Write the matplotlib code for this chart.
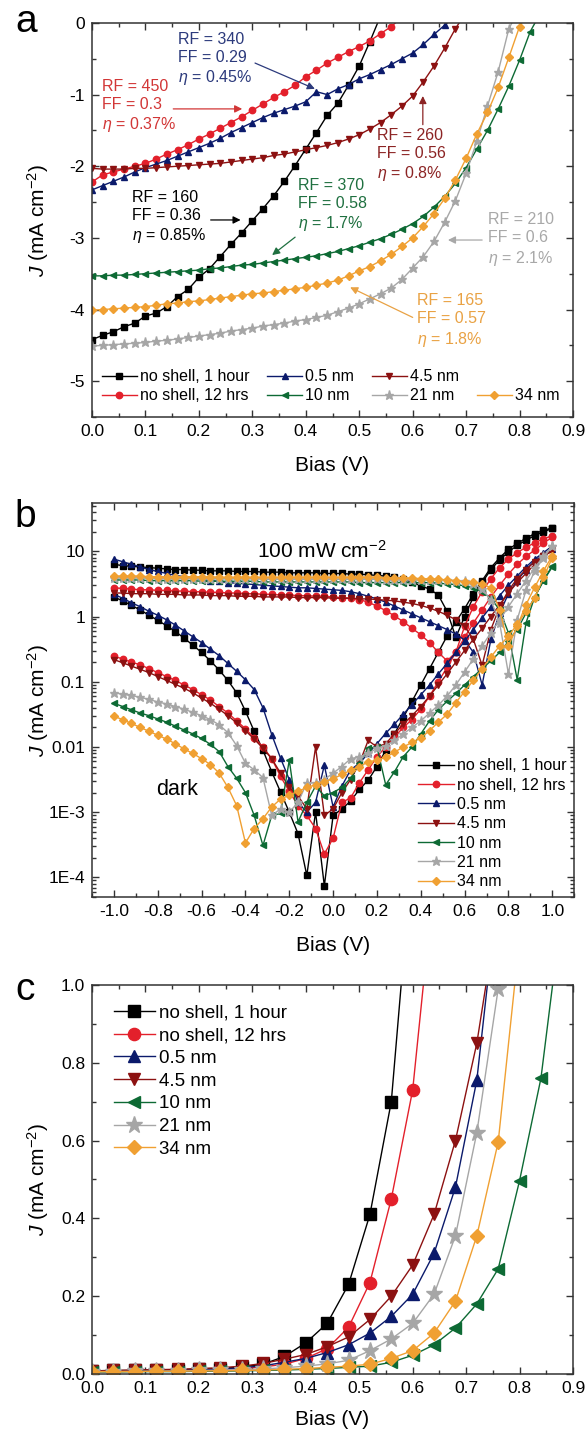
import numpy as np
import matplotlib
matplotlib.use("Agg")
import matplotlib.pyplot as plt
from matplotlib.lines import Line2D
from matplotlib.ticker import MultipleLocator, FixedLocator, FuncFormatter, LogLocator, NullFormatter

plt.rcParams["font.family"] = ["Liberation Sans", "DejaVu Sans"]
plt.rcParams["mathtext.fontset"] = "custom"
plt.rcParams["mathtext.rm"] = "Liberation Sans"
plt.rcParams["mathtext.it"] = "Liberation Sans:italic"
plt.rcParams["axes.unicode_minus"] = False

# series names, colours, markers
names = ["no shell, 1 hour", "no shell, 12 hrs", "0.5 nm", "4.5 nm", "10 nm", "21 nm", "34 nm"]
colors = ["#000000", "#e3202b", "#0b1a6b", "#8c1111", "#0d6a34", "#a6a6a6", "#f0a032"]
markers = ["s", "o", "^", "v", "<", "*", "D"]
text_colors = ["#000000", "#d23636", "#2c3a7c", "#8c2424", "#1f7040", "#a8a8a8", "#e9a244"]

# ---- panel a: J-V under illumination, bias step 0.02 V from 0 ----
a_black = [-4.42, -4.36, -4.31, -4.24, -4.19, -4.09, -4.05, -3.96, -3.82, -3.72,
           -3.55, -3.43, -3.26, -3.09, -2.93, -2.76, -2.59, -2.41, -2.21, -1.99,
           -1.76, -1.53, -1.29, -1.12, -0.87, -0.60, -0.26, 0.10]
a_red = [-2.22, -2.12, -2.08, -2.04, -2.00, -1.96, -1.90, -1.83, -1.77, -1.70,
         -1.62, -1.55, -1.47, -1.39, -1.31, -1.22, -1.13, -1.04, -0.96, -0.87,
         -0.75, -0.66, -0.56, -0.48, -0.40, -0.33, -0.25, -0.15, -0.05, 0.08]
a_blue = [-2.33, -2.27, -2.21, -2.15, -2.08, -2.02, -1.97, -1.92, -1.86, -1.80,
          -1.74, -1.68, -1.61, -1.53, -1.46, -1.39, -1.32, -1.26, -1.21, -1.16,
          -1.10, -0.96, -1.00, -0.92, -0.86, -0.78, -0.72, -0.65, -0.58, -0.50,
          -0.42, -0.30, -0.16, -0.03, 0.10]
a_brown = [-2.03, -2.04, -2.04, -2.04, -2.03, -2.03, -2.02, -2.01, -2.00, -1.99,
           -1.98, -1.97, -1.96, -1.94, -1.92, -1.90, -1.88, -1.85, -1.83, -1.80,
           -1.77, -1.74, -1.71, -1.67, -1.62, -1.56, -1.48, -1.39, -1.28, -1.16,
           -1.02, -0.82, -0.60, -0.35, -0.08, 0.15]
a_green = [-3.53, -3.53, -3.52, -3.52, -3.51, -3.50, -3.49, -3.48, -3.47, -3.46,
           -3.45, -3.43, -3.42, -3.40, -3.38, -3.37, -3.35, -3.33, -3.31, -3.29,
           -3.27, -3.25, -3.22, -3.19, -3.15, -3.11, -3.06, -3.01, -2.95, -2.88,
           -2.80, -2.70, -2.57, -2.42, -2.24, -2.02, -1.76, -1.50, -1.20, -0.88,
           -0.52, -0.12, 0.15]
a_gray = [-4.51, -4.50, -4.49, -4.48, -4.47, -4.46, -4.44, -4.43, -4.41, -4.39,
          -4.37, -4.35, -4.33, -4.30, -4.28, -4.26, -4.23, -4.21, -4.19, -4.16,
          -4.14, -4.11, -4.08, -4.03, -3.98, -3.92, -3.85, -3.78, -3.70, -3.58,
          -3.42, -3.26, -3.05, -2.78, -2.48, -2.10, -1.65, -1.16, -0.68, -0.08,
          0.20]
a_orange = [-4.01, -4.00, -3.99, -3.98, -3.97, -3.96, -3.94, -3.92, -3.91, -3.89,
            -3.88, -3.86, -3.84, -3.82, -3.80, -3.78, -3.77, -3.75, -3.73, -3.71,
            -3.69, -3.66, -3.63, -3.59, -3.53, -3.46, -3.40, -3.32, -3.23, -3.12,
            -3.00, -2.84, -2.66, -2.45, -2.19, -1.89, -1.55, -1.25, -0.90, -0.48,
            -0.05, 0.20]

# annotation text, anchor (bias, J) and arrow (from, to)
a_notes = [
    ("RF = 160\nFF = 0.36\n$\\eta$ = 0.85%", 0, (0.075, -2.33), (0.222, -2.75), (0.278, -2.75)),
    ("RF = 450\nFF = 0.3\n$\\eta$ = 0.37%", 1, (0.019, -0.78), (0.152, -1.20), (0.281, -1.20)),
    ("RF = 340\nFF = 0.29\n$\\eta$ = 0.45%", 2, (0.161, -0.12), (0.305, -0.56), (0.417, -0.92)),
    ("RF = 260\nFF = 0.56\n$\\eta$ = 0.8%", 3, (0.533, -1.46), (0.619, -1.42), (0.619, -1.02)),
    ("RF = 370\nFF = 0.58\n$\\eta$ = 1.7%", 4, (0.385, -2.16), (0.38, -2.99), (0.337, -3.24)),
    ("RF = 210\nFF = 0.6\n$\\eta$ = 2.1%", 5, (0.741, -2.64), (0.73, -3.03), (0.666, -3.03)),
    ("RF = 165\nFF = 0.57\n$\\eta$ = 1.8%", 6, (0.608, -3.77), (0.60, -4.11), (0.483, -3.69)),
]

# ---- panel b: log10 |J| from -1.0 to 1.0 V, step 0.04 V ----
b_light_black = [0.80, 0.78, 0.77, 0.76, 0.75, 0.74, 0.73, 0.72, 0.72, 0.71,
                 0.71, 0.70, 0.70, 0.70, 0.69, 0.69, 0.69, 0.68, 0.68, 0.68,
                 0.67, 0.67, 0.67, 0.67, 0.66, 0.66, 0.66, 0.65, 0.65, 0.64,
                 0.63, 0.62, 0.60, 0.57, 0.53, 0.47, 0.42, 0.33, 0.08, -0.32,
                 0.00, 0.30, 0.52, 0.72, 0.87, 0.99, 1.09, 1.17, 1.24, 1.30, 1.35]
b_light_red = [0.44, 0.43, 0.42, 0.41, 0.41, 0.40, 0.40, 0.39, 0.39, 0.38,
               0.38, 0.37, 0.37, 0.36, 0.36, 0.35, 0.35, 0.34, 0.34, 0.33,
               0.33, 0.32, 0.32, 0.31, 0.31, 0.30, 0.29, 0.28, 0.26, 0.22,
               0.16, 0.09, 0.01, -0.08, -0.18, -0.28, -0.40, -0.55, -0.68, -0.55,
               -0.15, 0.15, 0.38, 0.58, 0.75, 0.88, 0.98, 1.06, 1.13, 1.19, 1.24]
b_light_blue = [0.88, 0.84, 0.80, 0.76, 0.72, 0.69, 0.66, 0.63, 0.61, 0.59,
                0.57, 0.55, 0.54, 0.52, 0.51, 0.50, 0.49, 0.48, 0.47, 0.46,
                0.45, 0.44, 0.44, 0.43, 0.42, 0.41, 0.40, 0.38, 0.35, 0.31,
                0.27, 0.22, 0.16, 0.10, 0.04, -0.02, -0.08, -0.14, -0.20, -0.27,
                -0.36, -0.55, -1.05, -0.35, 0.05, 0.35, 0.55, 0.72, 0.85, 0.95, 1.04]
b_light_brown = [0.36, 0.36, 0.35, 0.35, 0.35, 0.34, 0.34, 0.34, 0.33, 0.33,
                 0.33, 0.32, 0.32, 0.32, 0.31, 0.31, 0.31, 0.30, 0.30, 0.30,
                 0.30, 0.29, 0.29, 0.29, 0.29, 0.28, 0.28, 0.28, 0.27, 0.27,
                 0.26, 0.25, 0.24, 0.22, 0.20, 0.17, 0.13, 0.08, 0.02, -0.05,
                 -0.15, -0.35, -0.75, -0.20, 0.15, 0.40, 0.58, 0.72, 0.84, 0.93, 1.00]
b_light_green = [0.56, 0.56, 0.56, 0.56, 0.55, 0.55, 0.55, 0.55, 0.55, 0.55,
                 0.54, 0.54, 0.54, 0.54, 0.54, 0.54, 0.54, 0.53, 0.53, 0.53,
                 0.53, 0.53, 0.53, 0.53, 0.53, 0.53, 0.53, 0.53, 0.52, 0.52,
                 0.52, 0.52, 0.52, 0.52, 0.52, 0.52, 0.52, 0.51, 0.50, 0.49,
                 0.47, 0.44, 0.38, 0.28, 0.10, -0.25, -0.97, -0.10, 0.30, 0.55, 0.76]
b_light_gray = [0.59, 0.59, 0.59, 0.59, 0.59, 0.58, 0.58, 0.58, 0.58, 0.58,
                0.58, 0.58, 0.58, 0.58, 0.58, 0.58, 0.58, 0.57, 0.57, 0.57,
                0.57, 0.57, 0.57, 0.57, 0.57, 0.57, 0.57, 0.57, 0.57, 0.57,
                0.57, 0.56, 0.56, 0.56, 0.56, 0.56, 0.56, 0.56, 0.56, 0.55,
                0.54, 0.50, 0.42, 0.25, -0.10, -0.88, -0.05, 0.40, 0.70, 0.90, 1.08]
b_light_orange = [0.62, 0.62, 0.62, 0.62, 0.61, 0.61, 0.61, 0.61, 0.61, 0.61,
                  0.61, 0.61, 0.60, 0.60, 0.60, 0.60, 0.60, 0.60, 0.60, 0.60,
                  0.60, 0.60, 0.60, 0.60, 0.60, 0.60, 0.60, 0.60, 0.60, 0.60,
                  0.60, 0.59, 0.59, 0.59, 0.59, 0.58, 0.58, 0.57, 0.56, 0.55,
                  0.53, 0.53, 0.50, 0.44, 0.10, -0.45, -0.15, 0.18, 0.45, 0.70, 0.93]

b_dark_black = [0.30, 0.24, 0.17, 0.10, 0.02, -0.06, -0.14, -0.23, -0.33, -0.44,
                -0.55, -0.68, -0.82, -0.98, -1.17, -1.45, -1.76, -2.05, -2.38, -2.69,
                -3.00, -3.33, -3.97, -3.00, -4.13, -3.05, -2.95, -2.83, -2.65, -2.51,
                -2.30, -2.05, -1.80, -1.55, -1.30, -1.05, -0.80, -0.55, -0.30, -0.08,
                0.12, 0.35, 0.55, 0.75, 0.90, 1.03, 1.12, 1.20, 1.27, 1.32, 1.36]
b_dark_red = [-0.61, -0.65, -0.70, -0.74, -0.80, -0.86, -0.92, -0.98, -1.05, -1.12,
              -1.20, -1.28, -1.38, -1.48, -1.60, -1.72, -1.86, -2.00, -2.18, -2.45,
              -2.68, -2.90, -3.05, -3.25, -3.64, -3.40, -2.85, -2.78, -2.55, -2.35,
              -2.15, -2.00, -1.85, -1.70, -1.58, -1.42, -1.22, -1.00, -0.78, -0.55,
              -0.32, -0.10, 0.10, 0.30, 0.48, 0.65, 0.80, 0.92, 1.02, 1.12, 1.22]
b_dark_blue = [0.34, 0.28, 0.21, 0.15, 0.08, 0.02, -0.05, -0.13, -0.22, -0.31,
               -0.40, -0.50, -0.60, -0.72, -0.84, -0.97, -1.12, -1.40, -1.81, -2.17,
               -2.50, -2.85, -3.00, -2.85, -2.28, -2.92, -2.60, -2.35, -2.25, -2.10,
               -1.95, -1.79, -1.65, -1.50, -1.35, -1.20, -1.05, -0.88, -0.72, -0.55,
               -0.38, -0.20, -0.02, 0.15, 0.32, 0.48, 0.62, 0.76, 0.88, 0.98, 1.08]
b_dark_brown = [-0.66, -0.71, -0.76, -0.81, -0.86, -0.92, -0.98, -1.04, -1.10, -1.17,
                -1.25, -1.33, -1.42, -1.52, -1.63, -1.75, -1.88, -2.02, -2.18, -2.40,
                -2.62, -2.75, -2.95, -2.00, -3.05, -2.95, -2.70, -2.50, -2.25, -1.90,
                -2.00, -1.95, -1.80, -1.65, -1.52, -1.38, -1.22, -1.05, -0.88, -0.70,
                -0.52, -0.35, -0.18, 0.00, 0.18, 0.36, 0.52, 0.66, 0.80, 0.92, 1.02]
b_dark_green = [-1.33, -1.38, -1.43, -1.48, -1.52, -1.57, -1.62, -1.68, -1.74, -1.80,
                -1.87, -1.96, -2.07, -2.30, -2.48, -2.70, -3.05, -3.51, -3.05, -3.02,
                -2.20, -3.15, -2.85, -2.60, -2.75, -2.70, -2.62, -2.48, -2.25, -2.02,
                -2.00, -2.58, -2.38, -2.15, -2.00, -1.80, -1.60, -1.43, -1.30, -1.18,
                -1.05, -0.92, -0.80, -0.68, -0.55, -0.38, -0.20, 0.05, 0.30, 0.55, 0.78]
b_dark_gray = [-1.17, -1.19, -1.21, -1.24, -1.27, -1.31, -1.34, -1.38, -1.42, -1.47,
               -1.52, -1.58, -1.66, -1.78, -1.98, -2.25, -2.35, -2.47, -3.05, -2.95,
               -3.00, -2.85, -2.55, -2.55, -2.50, -2.40, -2.30, -2.18, -2.15, -2.10,
               -2.02, -1.98, -1.90, -1.80, -1.70, -1.60, -1.48, -1.36, -1.22, -1.05,
               -0.85, -0.65, -0.45, -0.25, -0.05, 0.15, 0.35, 0.55, 0.75, 0.92, 1.08]
b_dark_orange = [-1.53, -1.58, -1.64, -1.70, -1.76, -1.82, -1.88, -1.95, -2.03, -2.10,
                 -2.18, -2.27, -2.40, -2.62, -2.90, -3.47, -3.25, -3.10, -2.92, -2.80,
                 -2.74, -2.68, -2.62, -2.58, -2.53, -2.49, -2.42, -2.36, -2.30, -2.23,
                 -2.20, -2.16, -2.08, -2.00, -1.93, -1.86, -1.75, -1.62, -1.50, -1.32,
                 -1.15, -0.98, -0.80, -0.62, -0.45, -0.30, -0.12, 0.08, 0.28, 0.60, 0.90]

# ---- panel c: dark forward J (linear), bias step 0.04 V from 0 ----
c_black = [0.008, 0.009, 0.009, 0.010, 0.011, 0.012, 0.014, 0.018, 0.025, 0.045,
           0.080, 0.130, 0.230, 0.410, 0.700, 1.350]
c_red = [0.008, 0.008, 0.009, 0.009, 0.010, 0.011, 0.012, 0.014, 0.018, 0.025,
         0.040, 0.065, 0.120, 0.235, 0.450, 0.730, 1.270]
c_blue = [0.007, 0.008, 0.008, 0.009, 0.010, 0.011, 0.013, 0.016, 0.021, 0.030,
          0.040, 0.055, 0.075, 0.105, 0.148, 0.205, 0.310, 0.480, 0.755, 1.250]
c_brown = [0.008, 0.009, 0.010, 0.011, 0.012, 0.014, 0.016, 0.020, 0.027, 0.038,
           0.050, 0.070, 0.095, 0.140, 0.200, 0.280, 0.410, 0.600, 0.850, 1.200]
c_green = [0.005, 0.005, 0.006, 0.006, 0.006, 0.007, 0.007, 0.008, 0.009, 0.010,
           0.012, 0.014, 0.017, 0.020, 0.030, 0.048, 0.075, 0.118, 0.180, 0.270,
           0.497, 0.760, 1.200]
c_gray = [0.006, 0.006, 0.007, 0.007, 0.008, 0.009, 0.010, 0.011, 0.013, 0.016,
          0.020, 0.026, 0.035, 0.060, 0.090, 0.130, 0.205, 0.355, 0.620, 0.990, 1.500]
c_orange = [0.006, 0.006, 0.006, 0.007, 0.007, 0.008, 0.008, 0.009, 0.010, 0.012,
            0.014, 0.017, 0.020, 0.025, 0.040, 0.060, 0.105, 0.187, 0.355, 0.596, 1.120]

a_series = [a_black, a_red, a_blue, a_brown, a_green, a_gray, a_orange]
b_light = [b_light_black, b_light_red, b_light_blue, b_light_brown, b_light_green, b_light_gray, b_light_orange]
b_dark = [b_dark_black, b_dark_red, b_dark_blue, b_dark_brown, b_dark_green, b_dark_gray, b_dark_orange]
c_series = [c_black, c_red, c_blue, c_brown, c_green, c_gray, c_orange]

b_bias = np.round(np.linspace(-1.0, 1.0, 51), 2)


def ms_for(m, base):
    # stars and diamonds look smaller at the same size
    if m == "*":
        return base * 1.45
    if m == "D":
        return base * 0.85
    return base


def style_axes(ax):
    for s in ax.spines.values():
        s.set_linewidth(1.1)
        s.set_color("#333333")
    ax.tick_params(which="both", direction="in", top=True, right=True, width=1.0,
                   colors="#333333", labelcolor="black", labelsize=12.5, pad=5)
    ax.tick_params(which="major", length=5)
    ax.tick_params(which="minor", length=3)


fig = plt.figure(figsize=(5.88, 14.33), dpi=100)
ylab = "$J$ (mA cm$^{-2}$)"

# ---------------- panel a ----------------
ax = fig.add_axes([0.1565, 0.709, 0.818, 0.275])
handles = []
for vals, c, m, n in zip(a_series, colors, markers, names):
    v = np.round(np.arange(len(vals)) * 0.02, 2)
    h, = ax.plot(v, vals, color=c, marker=m, ms=ms_for(m, 4.6), lw=1.0, label=n)
    handles.append(h)
for txt, i, pos, start, end in a_notes:
    ax.text(pos[0], pos[1], txt, color=text_colors[i], fontsize=11.5, va="top",
            ha="left", linespacing=1.25)
    ax.annotate("", xy=end, xytext=start,
                arrowprops=dict(arrowstyle="-|>", color=text_colors[i], lw=0.9,
                                mutation_scale=11, shrinkA=0, shrinkB=0))
ax.set_xlim(0, 0.9)
ax.set_ylim(-5.5, 0)
ax.xaxis.set_major_locator(MultipleLocator(0.1))
ax.xaxis.set_minor_locator(MultipleLocator(0.05))
ax.yaxis.set_major_locator(MultipleLocator(1))
ax.yaxis.set_minor_locator(MultipleLocator(0.5))
ax.xaxis.set_major_formatter(FuncFormatter(lambda x, p: f"{x:.1f}"))
ax.yaxis.set_major_formatter(FuncFormatter(lambda y, p: f"{y:.0f}"))
style_axes(ax)
ax.set_xlabel("Bias (V)", fontsize=15, labelpad=12)
ax.set_ylabel(ylab, fontsize=15)
ax.yaxis.set_label_coords(-0.086, 0.5)
blank = Line2D([], [], linestyle="none")
order = [handles[0], handles[1], handles[2], handles[4], handles[3], handles[5], blank, handles[6]]
labels = [names[0], names[1], names[2], names[4], names[3], names[5], "", names[6]]
ax.legend(order, labels, ncol=4, loc="lower left", bbox_to_anchor=(0.02, 0.035),
          frameon=False, fontsize=11.5, handlelength=2.2, handletextpad=0.2,
          columnspacing=1.1, labelspacing=0.25, borderpad=0, borderaxespad=0)

# ---------------- panel b ----------------
ax = fig.add_axes([0.1565, 0.374, 0.820, 0.275])
handles = []
for lt, dk, c, m, n in zip(b_light, b_dark, colors, markers, names):
    ax.plot(b_bias, 10 ** np.array(lt), color=c, marker=m, ms=ms_for(m, 4.6), lw=1.0)
    h, = ax.plot(b_bias, 10 ** np.array(dk), color=c, marker=m, ms=ms_for(m, 4.6), lw=1.0, label=n)
    handles.append(h)
ax.set_yscale("log")
ax.set_xlim(-1.1, 1.1)
ax.set_ylim(5e-5, 55)
ax.xaxis.set_major_locator(MultipleLocator(0.2))
ax.xaxis.set_minor_locator(MultipleLocator(0.1))
ax.xaxis.set_major_formatter(FuncFormatter(lambda x, p: f"{x:.1f}" if abs(x) > 1e-9 else "0.0"))
ax.yaxis.set_major_locator(FixedLocator([1e-4, 1e-3, 1e-2, 1e-1, 1, 10]))
ax.yaxis.set_minor_locator(LogLocator(base=10, subs=np.arange(2, 10), numticks=20))
ax.yaxis.set_minor_formatter(NullFormatter())
ylabels_b = {1e-4: "1E-4", 1e-3: "1E-3", 1e-2: "0.01", 1e-1: "0.1", 1: "1", 10: "10"}
ax.yaxis.set_major_formatter(FuncFormatter(
    lambda y, p: min(ylabels_b.items(), key=lambda kv: abs(np.log10(kv[0]) - np.log10(y)))[1]))
style_axes(ax)
ax.text(-0.05, 10, "100 mW cm$^{-2}$", fontsize=15, ha="center", va="center")
ax.text(-0.71, 2.2e-3, "dark", fontsize=15.5, ha="center", va="center")
ax.set_xlabel("Bias (V)", fontsize=15, labelpad=12)
ax.set_ylabel(ylab, fontsize=15)
ax.yaxis.set_label_coords(-0.086, 0.5)
ax.legend(handles, names, loc="lower right", bbox_to_anchor=(0.985, 0.02),
          frameon=False, fontsize=11.5, handlelength=2.3, handletextpad=0.2,
          labelspacing=0.27, borderpad=0, borderaxespad=0)

# ---------------- panel c ----------------
ax = fig.add_axes([0.1565, 0.0412, 0.818, 0.2715])
handles = []
for vals, c, m, n in zip(c_series, colors, markers, names):
    v = np.round(np.arange(len(vals)) * 0.04, 2)
    h, = ax.plot(v, vals, color=c, marker=m, ms=ms_for(m, 8.8), lw=1.0, label=n)
    handles.append(h)
ax.set_xlim(0, 0.9)
ax.set_ylim(0, 1.0)
ax.xaxis.set_major_locator(MultipleLocator(0.1))
ax.xaxis.set_minor_locator(MultipleLocator(0.05))
ax.yaxis.set_major_locator(MultipleLocator(0.2))
ax.yaxis.set_minor_locator(MultipleLocator(0.1))
ax.xaxis.set_major_formatter(FuncFormatter(lambda x, p: f"{x:.1f}"))
ax.yaxis.set_major_formatter(FuncFormatter(lambda y, p: f"{y:.1f}"))
style_axes(ax)
ax.set_xlabel("Bias (V)", fontsize=15, labelpad=10)
ax.set_ylabel(ylab, fontsize=15)
ax.yaxis.set_label_coords(-0.086, 0.5)
ax.legend(handles, names, loc="upper left", bbox_to_anchor=(0.045, 0.95),
          frameon=False, fontsize=13.5, handlelength=2.2, handletextpad=0.2,
          labelspacing=0.3, borderpad=0, borderaxespad=0)

# panel letters
fig.text(26 / 588, 1 - 22 / 1433, "a", fontsize=28, ha="center", va="center")
fig.text(25 / 588, 1 - 517 / 1433, "b", fontsize=28, ha="center", va="center")
fig.text(25 / 588, 1 - 990 / 1433, "c", fontsize=28, ha="center", va="center")

fig.savefig("out.png", dpi=100)
